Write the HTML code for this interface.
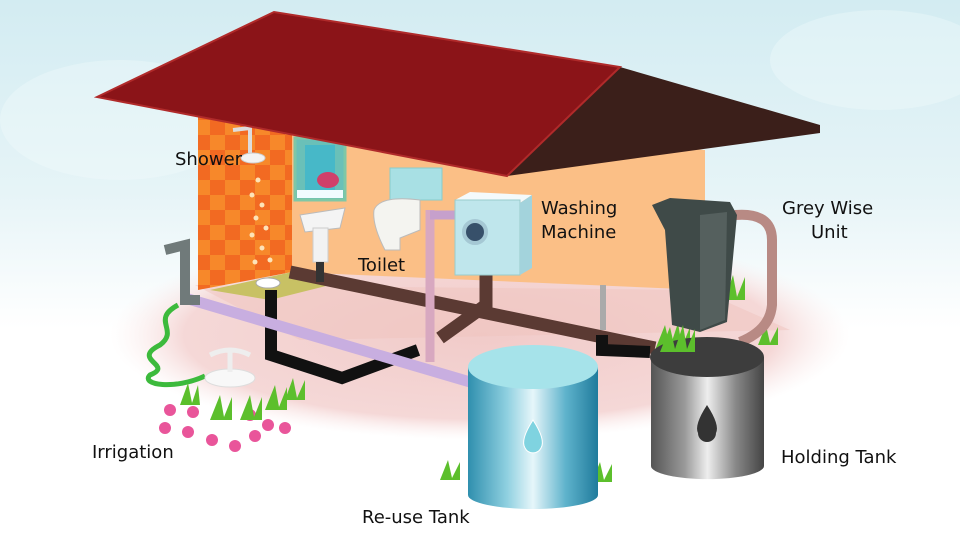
<!DOCTYPE html>
<html><head><meta charset="utf-8"><style>
html,body{margin:0;padding:0;background:#fff}
svg{display:block}
text{font-family:"DejaVu Sans","Liberation Sans",sans-serif;font-size:18px;fill:#111}
</style></head><body>
<svg width="960" height="548" viewBox="0 0 960 548" xmlns="http://www.w3.org/2000/svg">
<defs>
<linearGradient id="sky" x1="0" y1="0" x2="0" y2="1">
<stop offset="0" stop-color="#d3ecf2"/><stop offset="0.35" stop-color="#e6f4f7"/><stop offset="0.6" stop-color="#ffffff"/><stop offset="1" stop-color="#ffffff"/>
</linearGradient>
<radialGradient id="floor" cx="0.5" cy="0.5" r="0.5">
<stop offset="0" stop-color="#f1cbc9"/><stop offset="0.8" stop-color="#f5d8d7"/><stop offset="1" stop-color="#fbeeee" stop-opacity="0"/>
</radialGradient>
<linearGradient id="blue" x1="0" x2="1">
<stop offset="0" stop-color="#2f8fae"/><stop offset="0.3" stop-color="#8fd0e0"/><stop offset="0.5" stop-color="#e6f6fa"/><stop offset="0.75" stop-color="#5fb3cc"/><stop offset="1" stop-color="#1f7b9c"/>
</linearGradient>
<linearGradient id="grey" x1="0" x2="1">
<stop offset="0" stop-color="#555"/><stop offset="0.3" stop-color="#9a9a9a"/><stop offset="0.5" stop-color="#eee"/><stop offset="0.75" stop-color="#888"/><stop offset="1" stop-color="#444"/>
</linearGradient>
<pattern id="checker" width="30" height="30" patternUnits="userSpaceOnUse">
<rect width="30" height="30" fill="#f7882a"/><rect width="15" height="15" fill="#f26a22"/><rect x="15" y="15" width="15" height="15" fill="#f26a22"/>
</pattern>
</defs>
<rect width="960" height="548" fill="url(#sky)"/>
<ellipse cx="120" cy="120" rx="120" ry="60" fill="#f4fbfc" opacity="0.35"/>
<ellipse cx="880" cy="60" rx="110" ry="50" fill="#f4fbfc" opacity="0.35"/>
<!-- floor -->
<ellipse cx="480" cy="335" rx="370" ry="105" fill="url(#floor)"/>
<polygon points="195,285 700,290 790,330 300,340" fill="#efc3bd" opacity="0.5"/>
<!-- back wall -->
<polygon points="290,120 705,150 705,290 290,272" fill="#fbbf86"/>
<polygon points="198,115 292,125 292,272 198,290" fill="url(#checker)"/>
<polygon points="210,290 292,272 350,280 270,300" fill="#c8c164"/>
<!-- window -->
<rect x="295" y="138" width="50" height="62" fill="#6ac0b8" stroke="#7fc7a6" stroke-width="3"/>
<rect x="305" y="145" width="30" height="45" fill="#47b8c8"/>
<ellipse cx="328" cy="180" rx="11" ry="8" fill="#d0406a"/>
<rect x="297" y="190" width="46" height="8" fill="#f1fbff"/>
<!-- shower -->
<path d="M233,130 L250,128 L250,155" stroke="#ddd" stroke-width="4" fill="none"/>
<ellipse cx="253" cy="158" rx="12" ry="5" fill="#f3f3f3" stroke="#ccc"/>
<g fill="#fde3b8">
<circle cx="258" cy="180" r="2.5"/><circle cx="252" cy="195" r="2.5"/><circle cx="262" cy="205" r="2.5"/><circle cx="256" cy="218" r="2.5"/><circle cx="266" cy="228" r="2.5"/><circle cx="252" cy="235" r="2.5"/><circle cx="262" cy="248" r="2.5"/><circle cx="270" cy="260" r="2.5"/><circle cx="255" cy="262" r="2.5"/></g>
<ellipse cx="268" cy="283" rx="12" ry="5" fill="#fff" stroke="#aaa"/>
<!-- sink -->
<path d="M300,215 L345,208 L340,228 L305,232 Z" fill="#f4f4f4" stroke="#bbb"/>
<rect x="313" y="228" width="15" height="34" fill="#f2f2f2" stroke="#ccc"/>
<!-- toilet -->
<rect x="390" y="168" width="52" height="32" fill="#a8e0e4" stroke="#8cc"/>
<path d="M374,210 Q380,195 420,200 L420,230 L400,238 L400,250 L385,250 Q372,225 374,210Z" fill="#f4f4f0" stroke="#bbb"/>
<!-- pipes -->
<g stroke-linecap="butt" fill="none">
<path d="M290,272 L655,348" stroke="#5b3a33" stroke-width="13"/>
<path d="M486,275 L486,305 L440,338" stroke="#5b3a33" stroke-width="13"/>
<path d="M602,335 L602,350 L650,352" stroke="#111" stroke-width="12"/>
<path d="M430,210 L430,362" stroke="#d8a8c0" stroke-width="9"/>
<path d="M430,215 L455,215" stroke="#c6a0cc" stroke-width="9"/>
<path d="M320,262 L320,282" stroke="#333" stroke-width="8"/>
<path d="M271,290 L271,355 L342,378 L418,350" stroke="#111" stroke-width="12"/>
<path d="M185,298 L470,382" stroke="#c8aee0" stroke-width="11"/>
<path d="M603,285 L603,330" stroke="#aaa" stroke-width="6"/>
</g>
<!-- tap -->
<path d="M165,250 L185,245 L185,300 L200,300" stroke="#707a7a" stroke-width="10" fill="none"/>
<path d="M178,305 C150,320 180,330 160,345 C130,360 175,365 150,375 C140,385 175,390 205,376" stroke="#3cba3c" stroke-width="5" fill="none"/>
<!-- sprinkler -->
<ellipse cx="230" cy="378" rx="25" ry="9" fill="#f8f8f8" stroke="#ddd"/>
<path d="M210,355 Q230,345 250,355 M230,350 L230,372" stroke="#eee" stroke-width="5" fill="none"/>
<!-- flowers & grass -->
<g fill="#e9559a">
<circle cx="170" cy="410" r="6"/><circle cx="193" cy="412" r="6"/><circle cx="165" cy="428" r="6"/><circle cx="188" cy="432" r="6"/><circle cx="212" cy="440" r="6"/><circle cx="235" cy="446" r="6"/><circle cx="255" cy="436" r="6"/><circle cx="268" cy="425" r="6"/><circle cx="285" cy="428" r="6"/><circle cx="250" cy="415" r="6"/>
</g>
<g fill="#5cbf2c">
<path d="M180,405 l8,-22 l4,20 l6,-18 l2,20z"/><path d="M210,420 l10,-25 l4,22 l8,-20 l0,23z"/><path d="M240,420 l10,-25 l4,22 l8,-20 l0,23z"/><path d="M265,410 l10,-25 l4,22 l8,-20 l0,23z"/><path d="M285,400 l8,-22 l4,20 l8,-18 l0,20z"/>
<path d="M440,480 l8,-20 l4,18 l8,-16 l0,18z"/><path d="M592,482 l8,-20 l4,18 l8,-16 l0,18z"/>
<path d="M655,350 l10,-25 l5,22 l8,-24 l4,24 l8,-20 l0,23z"/><path d="M725,300 l8,-25 l4,22 l8,-20 l0,23z"/><path d="M758,345 l8,-20 l4,18 l8,-16 l0,18z"/>
</g>
<!-- washing machine -->
<polygon points="455,200 470,192 532,195 520,203" fill="#f4fafb"/>
<rect x="455" y="200" width="65" height="75" fill="#bfe6ec" stroke="#9cc"/>
<polygon points="520,203 532,195 532,268 520,275" fill="#a3d3dc"/>
<circle cx="475" cy="232" r="11" fill="#37506a" stroke="#a5c8d4" stroke-width="4"/>
<!-- roof -->
<polygon points="620,67 820,125 820,133 507,176" fill="#3b1f1a"/>
<polygon points="97,97 274,12 620,67 507,176" fill="#8b1418" stroke="#b02a2a" stroke-width="2"/>
<!-- grey wise unit -->
<path d="M735,215 Q772,212 772,240 L772,305 Q770,330 740,342" stroke="#b88a84" stroke-width="10" fill="none"/>
<polygon points="652,205 670,198 730,202 737,215 727,322 700,332 672,325 665,230" fill="#3f4a48"/>
<polygon points="700,215 727,212 725,320 700,330" fill="#55605e"/>
<!-- reuse tank -->
<path d="M468,367 L468,495 A65,14 0 0 0 598,495 L598,367 Z" fill="url(#blue)"/>
<ellipse cx="533" cy="367" rx="65" ry="22" fill="#a6e3ea"/>
<path d="M533,420 Q520,440 525,448 A9,9 0 0 0 541,448 Q546,440 533,420Z" fill="#7fd3e0" stroke="#fff"/>
<!-- holding tank -->
<path d="M651,357 L651,466 A56,13 0 0 0 764,466 L764,357 Z" fill="url(#grey)"/>
<ellipse cx="707" cy="357" rx="57" ry="20" fill="#3d3d3d"/>
<path d="M707,405 Q694,425 698,433 A9,9 0 0 0 716,433 Q720,425 707,405Z" fill="#333"/>
<g fill="#5cbf2c"><path d="M660,352 l10,-25 l5,22 l8,-24 l4,24 l8,-20 l0,23z"/></g>
<!-- labels -->
<text x="175" y="165">Shower</text>
<text x="541" y="214">Washing</text>
<text x="541" y="238">Machine</text>
<text x="782" y="214">Grey Wise</text>
<text x="811" y="238">Unit</text>
<text x="358" y="271">Toilet</text>
<text x="92" y="458">Irrigation</text>
<text x="781" y="463">Holding Tank</text>
<text x="362" y="523">Re-use Tank</text>
</svg>
</body></html>
